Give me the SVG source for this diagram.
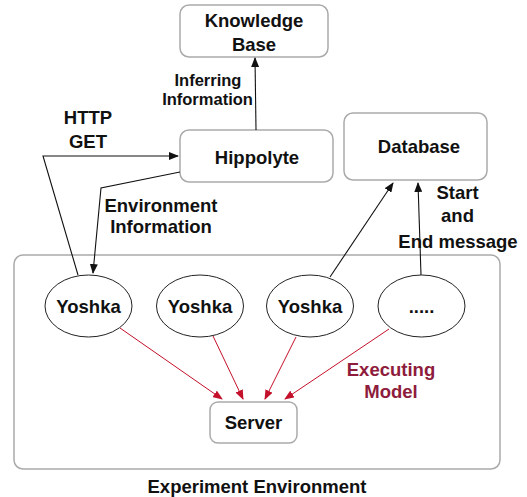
<svg xmlns="http://www.w3.org/2000/svg" width="527" height="497" viewBox="0 0 527 497">
<style>
text{font-family:"Liberation Sans",Arial,sans-serif;font-weight:bold;font-size:18.5px;fill:#111;text-anchor:middle}
.sm{font-size:16.5px}
.box{fill:#fff;stroke:#aaa;stroke-width:1.5}
.ell{fill:#fff;stroke:#222;stroke-width:1}
.c{fill:none;stroke:#111;stroke-width:1.1}
.r{fill:none;stroke:#c4102a;stroke-width:1}
.red{fill:#8e1c3c}
</style>
<defs>
<marker id="ab" markerWidth="10" markerHeight="8" refX="9" refY="4" orient="auto" markerUnits="userSpaceOnUse"><path d="M0,0 L10,4 L0,8 z" fill="#111"/></marker>
<marker id="ar" markerWidth="10" markerHeight="8" refX="9" refY="4" orient="auto" markerUnits="userSpaceOnUse"><path d="M0,0 L10,4 L0,8 z" fill="#c4102a"/></marker>
</defs>
<g id="env"><rect class="box" x="14" y="255" width="486" height="214" rx="9"/><text x="257" y="493">Experiment Environment</text></g>
<g id="kb"><rect class="box" x="180" y="5" width="148" height="52" rx="9"/><text x="254" y="27">Knowledge</text><text x="254" y="51">Base</text></g>
<g id="hippolyte"><rect class="box" x="180" y="130" width="153" height="52" rx="9"/><text x="257" y="164">Hippolyte</text></g>
<g id="database"><rect class="box" x="344" y="113" width="143" height="67" rx="9"/><text x="419" y="153">Database</text></g>
<g id="y1"><ellipse class="ell" cx="88.5" cy="306" rx="43.5" ry="31"/><text x="88.5" y="313">Yoshka</text></g>
<g id="y2"><ellipse class="ell" cx="200" cy="306" rx="43.5" ry="31"/><text x="200" y="313">Yoshka</text></g>
<g id="y3"><ellipse class="ell" cx="310" cy="306" rx="43.5" ry="31"/><text x="310" y="313">Yoshka</text></g>
<g id="y4"><ellipse class="ell" cx="421.5" cy="306" rx="43.5" ry="31"/><text x="421.5" y="313">.....</text></g>
<g id="server"><rect class="box" x="210" y="402" width="87" height="41" rx="8"/><text x="253.5" y="429">Server</text></g>
<g id="connectors">
<path class="c" d="M256,130 L255,58" marker-end="url(#ab)"/>
<path class="c" d="M78,275 L43,156 L178,156" marker-end="url(#ab)"/>
<path class="c" d="M180,172 L101,188 L93,273" marker-end="url(#ab)"/>
<path class="c" d="M330,277 L393,183" marker-end="url(#ab)"/>
<path class="c" d="M421,275 L418,183" marker-end="url(#ab)"/>
<path class="r" d="M120,328 L222,399" marker-end="url(#ar)"/>
<path class="r" d="M213,336 L243,399" marker-end="url(#ar)"/>
<path class="r" d="M296,337 L265,399" marker-end="url(#ar)"/>
<path class="r" d="M389,329 L285,399" marker-end="url(#ar)"/>
</g>
<g id="labels">
<text class="sm" x="208" y="86">Inferring</text><text class="sm" x="207.5" y="105">Information</text>
<text x="88" y="124">HTTP</text><text x="88" y="148">GET</text>
<text x="161" y="212">Environment</text><text x="161" y="233">Information</text>
<text x="457.5" y="199">Start</text><text x="457.5" y="222">and</text><text x="458" y="248">End message</text>
<text class="red" x="391" y="376">Executing</text><text class="red" x="391" y="398">Model</text>
</g>
</svg>
